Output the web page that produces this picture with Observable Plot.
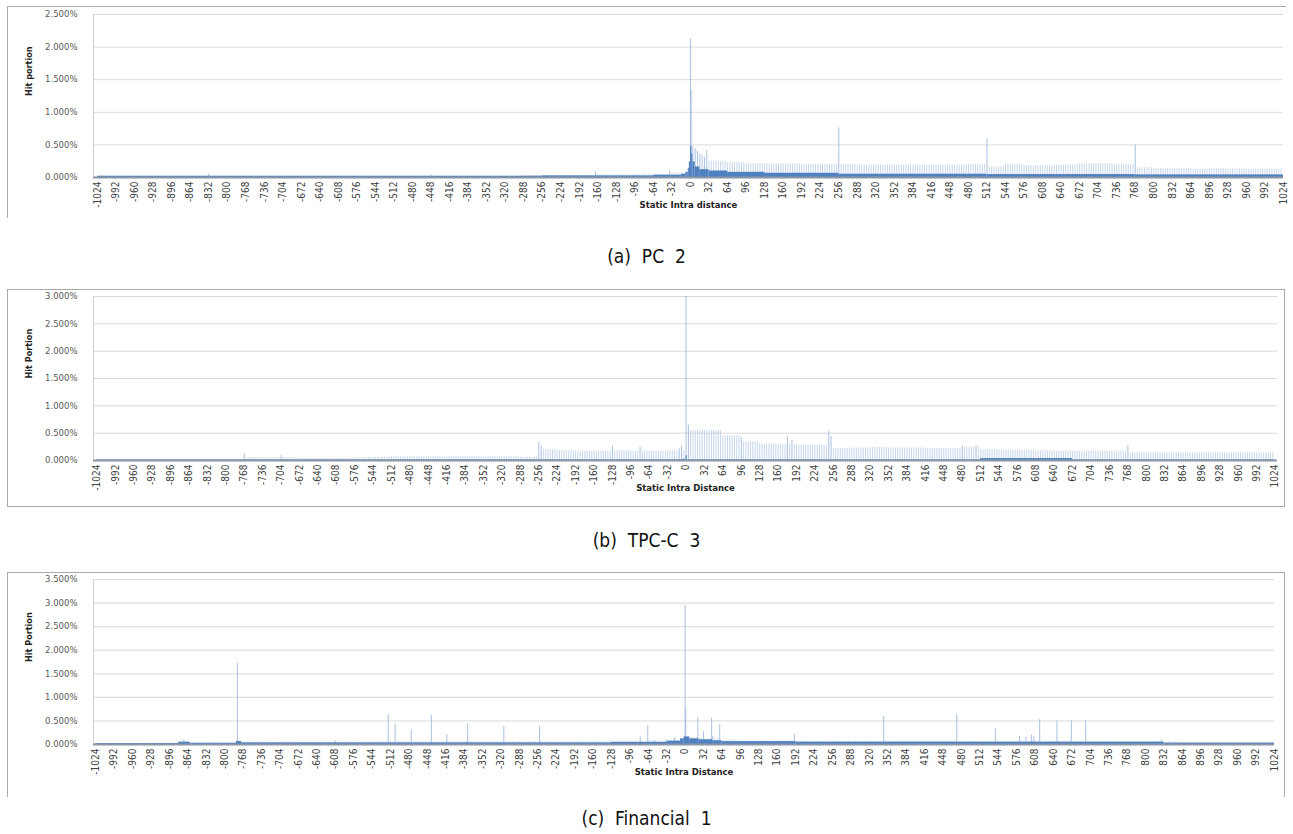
<!DOCTYPE html>
<html><head><meta charset="utf-8">
<script src="https://cdn.jsdelivr.net/npm/d3@7"></script>
<script src="https://cdn.jsdelivr.net/npm/@observablehq/plot@0.6"></script>
<style>
body{margin:0;background:#fff;}
#root{position:relative;width:1293px;height:834px;overflow:hidden;background:#fff;}
.panel{position:absolute;left:0;}
.box{position:absolute;border-style:solid;border-color:#a9a9a9;border-width:0;}
.cap{position:absolute;left:0;width:1293px;text-align:center;font-family:"Liberation Sans Narrow","DejaVu Sans Condensed",sans-serif;font-size:19px;color:#111;white-space:pre;line-height:24px;}
</style></head><body><div id="root"></div>
<script>
// ---- tick labels (every 32 categories) ----
const xTicks = [-1024,-992,-960,-928,-896,-864,-832,-800,-768,-736,-704,-672,-640,-608,-576,-544,-512,-480,-448,-416,-384,-352,-320,-288,-256,-224,-192,-160,-128,-96,-64,-32,0,32,64,96,128,160,192,224,256,288,320,352,384,416,448,480,512,544,576,608,640,672,704,736,768,800,832,864,896,928,960,992,1024];
const binStarts = xTicks.slice(0, 64);

// ---- (a) PC 2 ----
const pcLight = [0,0,0,0,0,0,0,0,0,0,0,0,0,0,0,0,0,0,0,0,0,0,0,0.03,0.03,0.03,0.03,0.04,0.04,0.05,0.05,0.07,
  0.34,0.25,0.23,0.21,0.21,0.21,0.2,0.2,0.2,0.19,0.19,0.19,0.19,0.19,0.19,0.2,0.16,0.2,0.18,0.18,0.19,0.21,0.21,0.2,0.15,0.14,0.14,0.13,0.14,0.13,0.13,0.13];
const pcSpikes = [[0,2.12],[1,1.33],[4,0.47],[8,0.44],[12,0.4],[16,0.36],[20,0.34],[24,0.31],[28,0.42],[256,0.76],[512,0.59],[768,0.5],[-164,0.09],[-832,0.05],[-448,0.04],[-36,0.1]];
const pcBaseEdges = [-1024,-256,-64,-16,-8,-4,-2,0,2,4,8,16,32,64,128,256,512,768,1024];
const pcBase = [0.02,0.025,0.035,0.05,0.08,0.14,0.24,0.48,0.36,0.24,0.16,0.12,0.1,0.08,0.065,0.05,0.045,0.04];

// ---- (b) TPC-C 3 ----
const tpcLight = [0,0,0,0,0,0,0,0.01,0.05,0.05,0.05,0.04,0.04,0.04,0.05,0.06,0.07,0.07,0.07,0.07,0.07,0.07,0.07,0.06,0.2,0.18,0.17,0.17,0.18,0.17,0.17,0.18,
  0.55,0.55,0.45,0.34,0.3,0.3,0.28,0.28,0.22,0.23,0.24,0.23,0.23,0.22,0.22,0.24,0.2,0.19,0.19,0.18,0.17,0.17,0.17,0.17,0.14,0.14,0.14,0.14,0.14,0.14,0.14,0.14];
const tpcSpikes = [[0,3.0],[-768,0.13],[-704,0.09],[-256,0.33],[-252,0.26],[-128,0.26],[-80,0.24],[-12,0.22],[-8,0.26],[4,0.65],[96,0.42],[176,0.43],[184,0.37],[248,0.54],[252,0.44],[480,0.26],[504,0.27],[768,0.27]];
const tpcBaseEdges = [-1024,-8,0,2,512,672,1024];
const tpcBase = [0.01,0.02,0.09,0.01,0.035,0.01];

// ---- (c) Financial 1 ----
const finLight = [0.02,0.02,0.02,0.03,0.03,0.04,0.04,0.04,0.05,0.05,0.05,0.05,0.05,0.05,0.05,0.06,0.06,0.06,0.06,0.06,0.06,0.06,0.06,0.06,0.06,0.06,0.07,0.07,0.07,0.07,0.08,0.1,
  0.14,0.12,0.09,0.08,0.08,0.08,0.07,0.07,0.07,0.07,0.07,0.07,0.07,0.07,0.07,0.07,0.06,0.06,0.07,0.07,0.07,0.06,0.06,0.06,0.06,0.06,0.05,0.04,0.04,0.04,0.04,0.04];
const finSpikes = [[-871,0.1],[-778,1.72],[-776,0.08],[-736,0.05],[-608,0.08],[-516,0.63],[-504,0.44],[-476,0.31],[-441,0.62],[-414,0.21],[-378,0.44],[-315,0.38],[-253,0.38],[-78,0.16],[-65,0.4],[-54,0.08],[-18,0.15],[0,2.95],[1,0.76],[22,0.58],[32,0.27],[46,0.56],[48,0.17],[60,0.42],[190,0.21],[345,0.6],[472,0.63],[539,0.33],[581,0.17],[592,0.15],[602,0.2],[606,0.17],[616,0.53],[646,0.5],[671,0.5],[696,0.5],[828,0.1]];
const finBaseEdges = [-1024,-880,-860,-780,-770,-128,-32,-8,-2,8,24,48,64,192,832,1024];
const finBase = [0.02,0.05,0.025,0.06,0.035,0.045,0.07,0.12,0.16,0.12,0.1,0.08,0.06,0.05,0.03];

const panels = [
  {top:0, height:215, mt:14, mb:38, mr:10, xDomain:[-1031,1024], yMax:2.5, yTicks:[0,0.5,1,1.5,2,2.5],
   light:pcLight, spikes:pcSpikes, edges:pcBaseEdges, base:pcBase, ylab:"Hit portion", xlab:"Static Intra distance",
   caption:"(a)  PC  2", capTop:244, box:{left:7,top:6,width:1278,height:211,bw:"1px 0 0 1px"}},
  {top:285, height:225, mt:11, mb:50, mr:16, xDomain:[-1030,1028], yMax:3.0, yTicks:[0,0.5,1,1.5,2,2.5,3],
   light:tpcLight, spikes:tpcSpikes, edges:tpcBaseEdges, base:tpcBase, ylab:"Hit Portion", xlab:"Static Intra Distance",
   caption:"(b)  TPC-C  3", capTop:528, box:{left:7,top:289,width:1276,height:216,bw:"1px"}},
  {top:565, height:230, mt:14, mb:51, mr:19, xDomain:[-1028,1024], yMax:3.5, yTicks:[0,0.5,1,1.5,2,2.5,3,3.5],
   light:finLight, spikes:finSpikes, edges:finBaseEdges, base:finBase, ylab:"Hit Portion", xlab:"Static Intra Distance",
   caption:"(c)  Financial  1", capTop:806, box:{left:7,top:572,width:1276,height:224,bw:"1px 1px 0 1px"}}
];

const root = document.getElementById("root");

for (const p of panels) {
  const box = document.createElement("div");
  box.className = "box";
  Object.assign(box.style, {left:p.box.left+"px", top:p.box.top+"px", width:p.box.width+"px", height:p.box.height+"px", borderWidth:p.box.bw});
  root.appendChild(box);

  const spikeMap = new Map(p.spikes.map(([d,v]) => [d,v]));
  const lightData = [];
  p.light.forEach((v,i) => {
    for (let k = 0; k < 8; k++) {
      const d = binStarts[i] + 4*k;
      if (!spikeMap.has(d) && v > 0) lightData.push({d, v});
    }
  });
  const spikeData = p.spikes.map(([d,v]) => ({d, v}));
  const baseData = p.base.map((v,i) => ({x1:p.edges[i], x2:p.edges[i+1], v}));

  const svg = Plot.plot({
    width:1293, height:p.height,
    marginTop:p.mt, marginBottom:p.mb, marginLeft:93, marginRight:p.mr,
    style:{background:"transparent", fontFamily:"DejaVu Sans, sans-serif", overflow:"visible"},
    x:{type:"linear", domain:p.xDomain, ticks:xTicks, tickFormat:d=>String(d), tickRotate:-90, tickSize:0, tickPadding:4, label:null},
    y:{domain:[0,p.yMax], ticks:p.yTicks, tickFormat:d=>d.toFixed(3)+"%", tickSize:0, tickPadding:16, label:null},
    marks:[
      Plot.ruleY(p.yTicks.filter(t=>t>0), {stroke:"#d9d9d9", strokeWidth:1}),
      Plot.ruleX([p.xDomain[0]], {stroke:"#d0d0d0", strokeWidth:1}),
      Plot.ruleX(lightData, {x:"d", y1:0, y2:"v", stroke:"#b4c9e6", strokeWidth:0.75}),
      Plot.ruleX(spikeData, {x:"d", y1:0, y2:"v", stroke:"#9fb9dd", strokeWidth:0.9}),
      Plot.rectY(baseData, {x1:"x1", x2:"x2", y:"v", fill:"#4f80c0"}),
      Plot.ruleY([0], {stroke:"#8b96a6", strokeWidth:2}),
      Plot.text([p.ylab], {frameAnchor:"left", rotate:-90, dx:-64, fontWeight:"bold", fontSize:9, fill:"#222", fontFamily:"Liberation Sans Narrow, DejaVu Sans Condensed, sans-serif"}),
      Plot.text([p.xlab], {frameAnchor:"bottom", dy:30, fontWeight:"bold", fontSize:8.5, fill:"#222", fontFamily:"DejaVu Sans, sans-serif"})
    ]
  });
  d3.select(svg).selectAll('g[aria-label^="x-axis"] text')
    .style("font-family", "Liberation Sans Narrow, DejaVu Sans Condensed, sans-serif")
    .style("font-size", "10px").attr("fill", "#404040");
  d3.select(svg).selectAll('g[aria-label^="y-axis"] text')
    .style("font-family", "DejaVu Sans, sans-serif")
    .style("font-size", "8.5px").attr("fill", "#595959");
  const wrap = document.createElement("div");
  wrap.className = "panel";
  wrap.style.top = p.top + "px";
  wrap.appendChild(svg);
  root.appendChild(wrap);

  const cap = document.createElement("div");
  cap.className = "cap";
  cap.style.top = p.capTop + "px";
  cap.textContent = p.caption;
  root.appendChild(cap);
}
</script>
</body></html>
